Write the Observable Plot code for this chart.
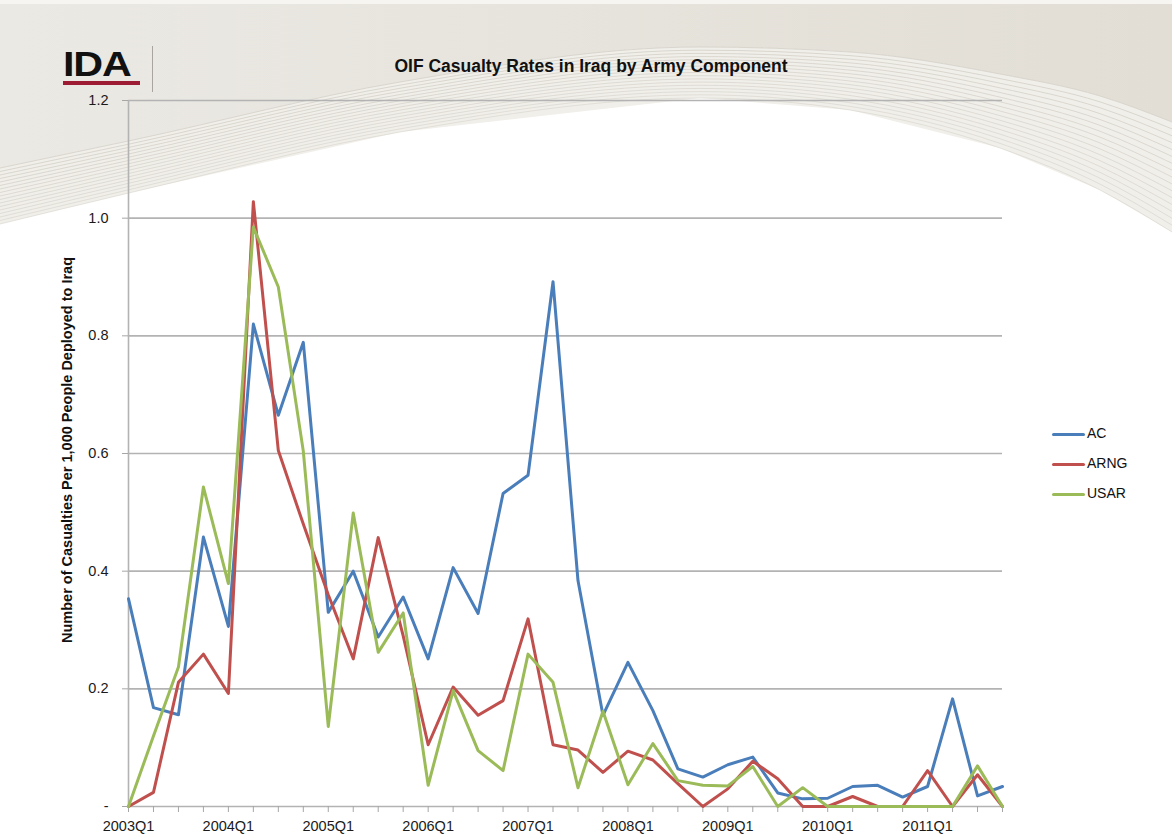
<!DOCTYPE html>
<html>
<head>
<meta charset="utf-8">
<script src="https://cdn.jsdelivr.net/npm/d3@7"></script>
<script src="https://cdn.jsdelivr.net/npm/@observablehq/plot@0.6"></script>
<style>
  html, body { margin: 0; padding: 0; background: #fff; }
  #page { position: relative; width: 1172px; height: 839px; overflow: hidden;
          font-family: "Liberation Sans", Arial, sans-serif; color: #1a1a1a; }
  #bg, #chart { position: absolute; left: 0; top: 0; }
  #logo { position: absolute; left: 63px; top: 44px; width: 77px; height: 42px; }
  #logo .word { position: absolute; left: 0; top: 0; font-weight: 900; font-size: 35px;
                letter-spacing: -1px; line-height: 40px; color: #111;
                transform-origin: left top; transform: scaleX(1.18); }
  #logo .bar { position: absolute; left: 0; top: 37px; width: 77px; height: 4px; background: #9e1b34; }
  #sep { position: absolute; left: 152px; top: 46px; width: 1px; height: 46px; background: #a9a59e; }
  #title { position: absolute; left: 0; width: 1182px; top: 56px; text-align: center;
           font-weight: bold; font-size: 17.5px; color: #111; }
  #ylabel { position: absolute; left: 67px; top: 450px; white-space: nowrap;
            font-weight: bold; font-size: 14.5px; color: #111;
            transform: translate(-50%, -50%) rotate(-90deg); }
  #legend { position: absolute; left: 1052px; top: 424px; }
  #legend .row { position: relative; height: 30px; }
  #legend .sw { position: absolute; left: 0; top: 9px; width: 33px; height: 3px; border-radius: 1.5px; }
  #legend .lab { position: absolute; left: 35px; top: 1px; font-size: 14px; color: #111; }
</style>
</head>
<body>
<div id="page">
  <svg id="bg" width="1172" height="839"></svg>
  <div id="chart"></div>
  <div id="logo"><div class="word">IDA</div><div class="bar"></div></div>
  <div id="sep"></div>
  <div id="title">OIF Casualty Rates in Iraq by Army Component</div>
  <div id="ylabel">Number of Casualties Per 1,000 People Deployed to Iraq</div>
  <div id="legend"></div>
</div>
<script>
// Quarterly casualty rates per 1,000 deployed, by Army component
const quarters = [];
for (let y = 2003; y <= 2011; y++) for (let q = 1; q <= 4; q++) quarters.push(`${y}Q${q}`);

const acRates = [0.353, 0.168, 0.156, 0.458, 0.306, 0.820, 0.665, 0.789,
                 0.330, 0.400, 0.288, 0.356, 0.251, 0.406, 0.328, 0.532,
                 0.563, 0.892, 0.384, 0.155, 0.245, 0.163, 0.064, 0.050,
                 0.071, 0.084, 0.023, 0.013, 0.014, 0.034, 0.036, 0.016,
                 0.034, 0.183, 0.018, 0.034];
const arngRates = [0, 0.024, 0.211, 0.259, 0.192, 1.028, 0.605, 0.480,
                   0.360, 0.251, 0.457, 0.290, 0.105, 0.203, 0.155, 0.180,
                   0.319, 0.105, 0.096, 0.058, 0.094, 0.079, 0.039, 0,
                   0.030, 0.077, 0.047, 0, 0, 0.017, 0, 0,
                   0.061, 0, 0.054, 0];
const usarRates = [0, 0.120, 0.237, 0.543, 0.379, 0.985, 0.883, 0.604,
                   0.136, 0.499, 0.262, 0.329, 0.036, 0.197, 0.095, 0.061,
                   0.259, 0.211, 0.032, 0.162, 0.037, 0.107, 0.044, 0.036,
                   0.035, 0.068, 0, 0.032, 0, 0, 0, 0,
                   0, 0, 0.069, 0];

const seriesNames = ["AC", "ARNG", "USAR"];
const seriesColors = ["#4a7ebb", "#c0504d", "#9bbb59"];
const yTicks = [0, 0.2, 0.4, 0.6, 0.8, 1.0, 1.2];

const rows = [];
[acRates, arngRates, usarRates].forEach((vals, s) =>
  vals.forEach((v, i) => rows.push({quarter: quarters[i], rate: v, component: seriesNames[s]})));

// Decorative header swoosh behind the chart
(function drawBackground() {
  const svg = d3.select("#bg");
  const upper = [[0, 168], [133, 140], [400, 82], [700, 47], [850, 52], [1000, 74], [1100, 96], [1172, 122]];
  const lower = [[0, 224], [133, 192], [400, 132], [700, 98], [850, 110], [1000, 148], [1100, 190], [1172, 232]];
  const curve = d3.line().curve(d3.curveMonotoneX);
  const defs = svg.append("defs");
  const g = defs.append("linearGradient").attr("id", "beige").attr("x1", 0).attr("x2", 1);
  g.append("stop").attr("offset", 0).attr("stop-color", "#ebe9e4");
  g.append("stop").attr("offset", 1).attr("stop-color", "#e2ded5");
  svg.append("path")
    .attr("d", curve(upper) + "L1172,0L0,0Z")
    .attr("fill", "url(#beige)");
  svg.append("path")
    .attr("d", curve(upper) + "L" + lower.slice().reverse().map(p => p.join(",")).join("L") + "Z")
    .attr("fill", "#f1efea");
  const n = 16;
  for (let k = 0; k <= n; k++) {
    const t = k / n;
    const pts = upper.map((p, i) => [p[0], p[1] + (lower[i][1] - p[1]) * t]);
    svg.append("path").attr("d", curve(pts)).attr("fill", "none")
      .attr("stroke", "#d2cec5").attr("stroke-width", 0.8).attr("stroke-opacity", 1 - t * 0.35);
  }
  svg.append("rect").attr("x", 0).attr("y", 0).attr("width", 1172).attr("height", 4).attr("fill", "#f6f5f2");
})();

const chart = Plot.plot({
  width: 1172,
  height: 839,
  marginLeft: 128,
  marginRight: 170,
  marginTop: 100,
  marginBottom: 33,
  style: {background: "transparent", fontFamily: "Liberation Sans, Arial, sans-serif"},
  x: {type: "point", domain: quarters, padding: 0},
  y: {domain: [0, 1.2]},
  color: {domain: seriesNames, range: seriesColors},
  marks: [
    Plot.gridY(yTicks, {stroke: "#b3b3b3", strokeOpacity: 1, strokeWidth: 1.6}),
    Plot.ruleX([quarters[0]], {y1: 0, y2: 1.2, stroke: "#b3b3b3", strokeWidth: 1.6}),
    Plot.axisY({ticks: yTicks, tickSize: 6, tickPadding: 14, stroke: "#a6a6a6", fill: "#1a1a1a",
                fontSize: 14.5, label: null,
                tickFormat: d => d === 0 ? "-" : d.toFixed(1)}),
    Plot.axisX({ticks: quarters, tickSize: 6, tickPadding: 8, stroke: "#a6a6a6", fill: "#1a1a1a",
                fontSize: 14.5, label: null,
                tickFormat: d => d.endsWith("Q1") ? d : ""}),
    Plot.lineY(rows, {x: "quarter", y: "rate", stroke: "component", z: "component",
                      strokeWidth: 3, strokeLinejoin: "round", strokeLinecap: "round"})
  ]
});
document.getElementById("chart").appendChild(chart);

// Legend: short line swatches with component names
const legend = d3.select("#legend");
seriesNames.forEach((name, i) => {
  const row = legend.append("div").attr("class", "row");
  row.append("div").attr("class", "sw").style("background", seriesColors[i]);
  row.append("div").attr("class", "lab").text(name);
});
</script>
</body>
</html>
